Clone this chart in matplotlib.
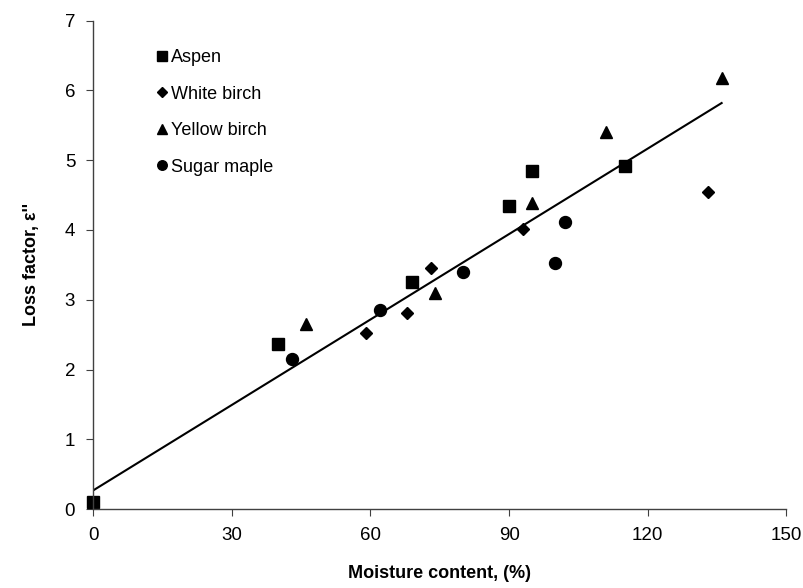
import matplotlib.pyplot as plt

plt.rcParams['font.family'] = ['Liberation Sans', 'DejaVu Sans']

# moisture content (%) and loss factor
aspen_x = [0, 40, 69, 90, 95, 115]
aspen_y = [0.1, 2.36, 3.25, 4.35, 4.85, 4.92]

white_x = [59, 68, 73, 93, 133]
white_y = [2.52, 2.81, 3.45, 4.02, 4.55]

yellow_x = [46, 74, 95, 111, 136]
yellow_y = [2.66, 3.1, 4.38, 5.4, 6.18]

maple_x = [43, 62, 80, 100, 102]
maple_y = [2.15, 2.85, 3.4, 3.52, 4.12]

# fitted line
fit_x = [0, 136]
fit_intercept = 0.27
fit_slope = 0.0408

fig = plt.figure(figsize=(8.04, 5.88), dpi=100)
ax = fig.add_axes([0.116, 0.134, 0.862, 0.831])

ax.plot(aspen_x, aspen_y, 's', color='black', markersize=8.6, label='Aspen', clip_on=False)
ax.plot(white_x, white_y, 'D', color='black', markersize=5.8, label='White birch')
ax.plot(yellow_x, yellow_y, '^', color='black', markersize=8.8, label='Yellow birch')
ax.plot(maple_x, maple_y, 'o', color='black', markersize=8.6, label='Sugar maple')

ax.plot(fit_x, [fit_intercept + fit_slope * x for x in fit_x], color='black', linewidth=1.5)

ax.set_xlim(0, 150)
ax.set_ylim(0, 7)
ax.set_xticks([0, 30, 60, 90, 120, 150])
ax.set_yticks(range(8))

for side in ['top', 'right']:
    ax.spines[side].set_visible(False)
for side in ['left', 'bottom']:
    ax.spines[side].set_color('#404040')
    ax.spines[side].set_linewidth(1.0)
ax.tick_params(direction='out', length=5, color='#404040', labelsize=13.5, pad=8)

ax.set_xlabel('Moisture content, (%)', fontsize=13, fontweight='bold', labelpad=15)
ax.set_ylabel("Loss factor, ε''", fontsize=13, fontweight='bold', labelpad=18)

ax.legend(loc='upper left', bbox_to_anchor=(0.062, 0.975), frameon=False, fontsize=13,
          handletextpad=0.0, handlelength=1.0, labelspacing=1.08, markerscale=0.8)

fig.savefig('out.png', dpi=100)
